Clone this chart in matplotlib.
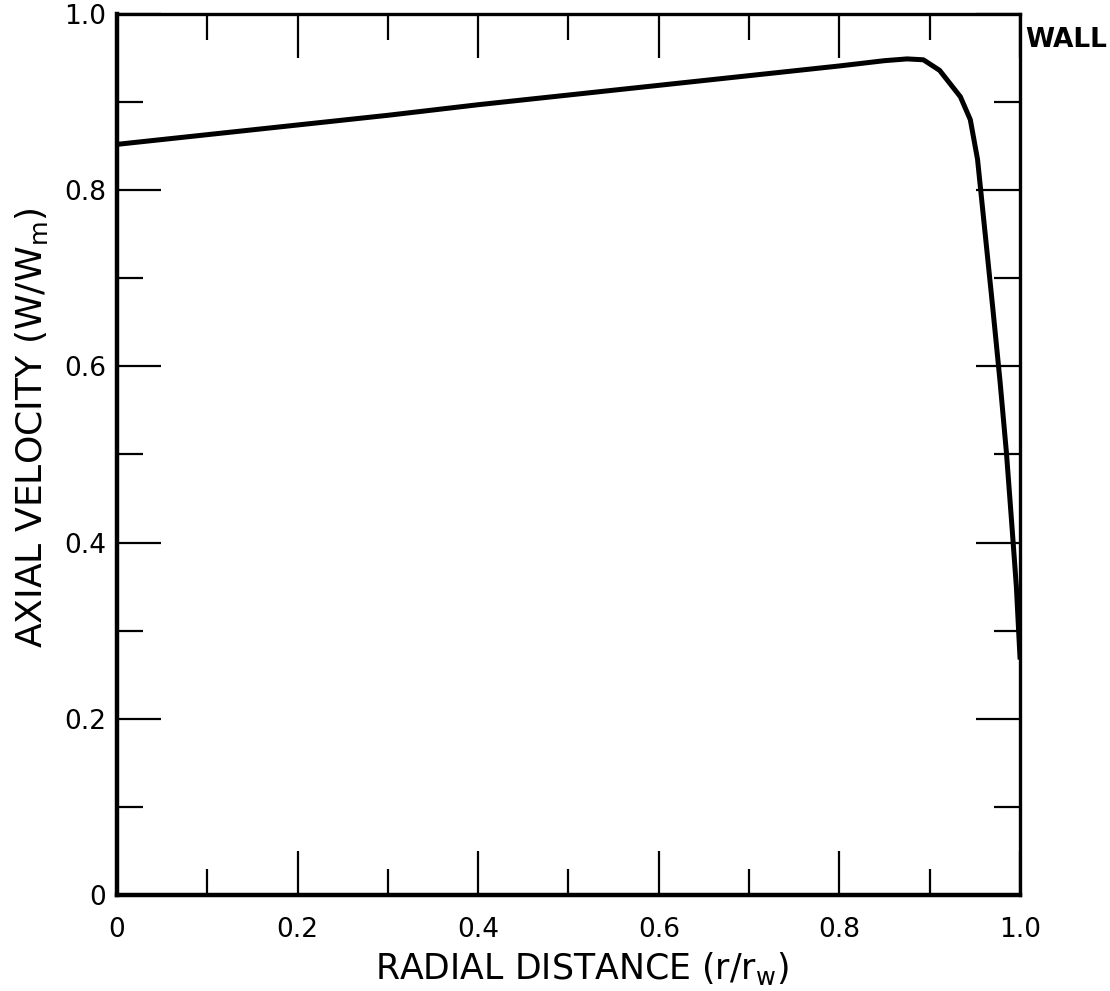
import numpy as np
from matplotlib import pyplot as plt

# velocity profile
r = [0.0, 0.1, 0.2, 0.3, 0.4, 0.5, 0.6, 0.7, 0.8, 0.85, 0.875, 0.893, 0.911, 0.934,
     0.945, 0.953, 0.962, 0.970, 0.978, 0.985, 0.991, 0.996, 1.0]
w = [0.852, 0.863, 0.874, 0.885, 0.897, 0.908, 0.919, 0.930, 0.941, 0.947, 0.949, 0.948,
     0.936, 0.906, 0.880, 0.835, 0.745, 0.665, 0.582, 0.502, 0.420, 0.350, 0.27]

xticks = [0.0, 0.2, 0.4, 0.6, 0.8, 1.0]
xticklabels = ['0', '0.2', '0.4', '0.6', '0.8', '1.0']
yticks = [0.0, 0.2, 0.4, 0.6, 0.8, 1.0]
yticklabels = ['0', '0.2', '0.4', '0.6', '0.8', '1.0']
minor = [0.1, 0.3, 0.5, 0.7, 0.9]

plt.rcParams['font.family'] = ['DejaVu Sans']

fig = plt.figure(figsize=(11.1, 9.91), dpi=100)
ax = fig.add_axes([0.1054, 0.0969, 0.8135, 0.8890])

ax.plot(r, w, color='black', linewidth=3.6, solid_joinstyle='round')

ax.set_xlim(0, 1.0)
ax.set_ylim(0, 1.0)

ax.set_xticks(xticks)
ax.set_xticklabels(xticklabels)
ax.set_yticks(yticks)
ax.set_yticklabels(yticklabels)
ax.set_xticks(minor, minor=True)
ax.set_yticks(minor, minor=True)

ax.tick_params(which='both', direction='in', top=True, right=True, width=1.6, labelsize=19)
ax.tick_params(which='major', length=32)
ax.tick_params(which='minor', length=19)
ax.tick_params(axis='x', which='major', pad=16)
ax.tick_params(axis='y', which='major', pad=8)

for side in ['left', 'bottom']:
    ax.spines[side].set_linewidth(3.2)
for side in ['top', 'right']:
    ax.spines[side].set_linewidth(2.4)

ax.set_xlabel(r'RADIAL DISTANCE (r/r$_\mathregular{w}$)', fontsize=25)
ax.xaxis.set_label_coords(0.515, -0.0625)
ax.set_ylabel(r'AXIAL VELOCITY (W/W$_\mathregular{m}$)', fontsize=26)
ax.yaxis.set_label_coords(-0.074, 0.53)

ax.text(1.006, 0.97, 'WALL', transform=ax.transAxes, fontsize=19, fontweight='bold',
        ha='left', va='center')

fig.savefig('out.png', dpi=100)
